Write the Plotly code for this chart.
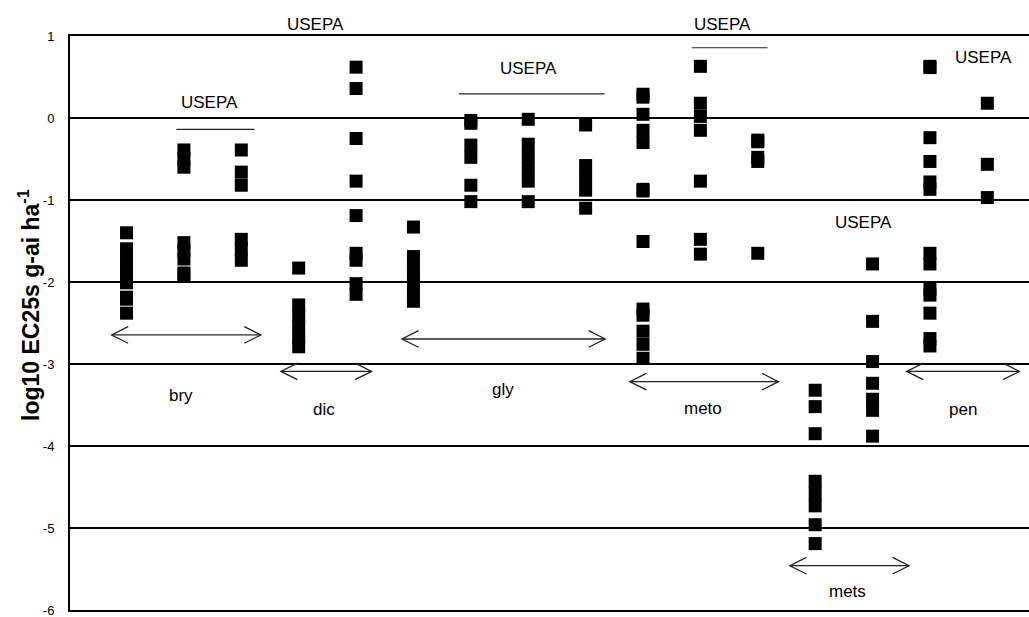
import plotly.graph_objects as go

# log10 EC25 values (g ai/ha), one list per test column, grouped by herbicide
bry_1 = [-1.40, -1.595, -1.70, -1.80, -1.90, -2.01, -2.185, -2.21, -2.38]
bry_2 = [-0.39, -0.50, -0.60, -1.52, -1.62, -1.72, -1.89, -1.93]
bry_3 = [-0.39, -0.66, -0.82, -1.48, -1.60, -1.735]
dic_1 = [-1.83, -2.28, -2.41, -2.54, -2.67, -2.79]
dic_2 = [0.62, 0.36, -0.25, -0.77, -1.19, -1.65, -1.735, -2.02, -2.15]
gly_1 = [-1.33, -1.69, -1.83, -1.96, -2.10, -2.235]
gly_2 = [-0.03, -0.065, -0.33, -0.48, -0.82, -1.02]
gly_3 = [-0.016, -0.32, -0.47, -0.62, -0.77, -1.02]
gly_4 = [-0.085, -0.58, -0.73, -0.88, -1.10]
meto_1 = [0.29, 0.254, 0.045, -0.15, -0.30, -0.87, -0.89, -1.506,
          -2.33, -2.405, -2.60, -2.76, -2.93]
meto_2 = [0.63, 0.18, 0.02, -0.15, -0.77, -1.48, -1.66]
meto_3 = [-0.27, -0.29, -0.48, -0.53, -1.65]
mets_1 = [-3.32, -3.52, -3.85, -4.43, -4.58, -4.73, -4.96, -5.19]
mets_2 = [-1.78, -2.48, -2.97, -3.235, -3.43, -3.565, -3.88]
pen_1 = [0.63, 0.615, -0.24, -0.53, -0.78, -0.87, -1.65, -1.78,
         -2.09, -2.16, -2.38, -2.69, -2.78]
pen_2 = [0.18, -0.565, -0.97]

columns = [bry_1, bry_2, bry_3, dic_1, dic_2, gly_1, gly_2, gly_3, gly_4,
           meto_1, meto_2, meto_3, mets_1, mets_2, pen_1, pen_2]

herbicides = ["bry", "dic", "gly", "meto", "mets", "pen"]
y_ticks = [1, 0, -1, -2, -3, -4, -5, -6]
usepa_label = "USEPA"
y_title = "<b>log10 EC25s g-ai ha<sup>-1</sup></b>"

FONT = "Arial, Liberation Sans, sans-serif"
Y_MIN, Y_MAX = -6, 1


def to_paper_y(v):
    """Vertical data value -> paper fraction (lets labels sit above the plot)."""
    return (v - Y_MIN) / (Y_MAX - Y_MIN)


fig = go.Figure()

for i, vals in enumerate(columns, start=1):
    fig.add_trace(go.Scatter(
        x=[i] * len(vals), y=vals, mode="markers",
        marker=dict(symbol="square", size=13, color="black", line=dict(width=0)),
        showlegend=False, hoverinfo="y",
    ))

# herbicide group spans: (left end, right end, y of arrow), label placement (x, y)
group_arrows = [(0.74, 3.34, -2.646), (3.69, 5.27, -3.09), (5.80, 9.34, -2.695),
                (9.77, 12.36, -3.215), (12.56, 14.635, -5.46), (14.595, 16.56, -3.09)]
group_label_pos = [(1.95, -3.39), (4.44, -3.56), (7.56, -3.31),
                   (11.05, -3.54), (13.57, -5.78), (15.57, -3.55)]

shapes = []
annotations = []
for (x0, x1, ya), (lx, ly), name in zip(group_arrows, group_label_pos, herbicides):
    shapes.append(dict(type="line", xref="x", yref="y", x0=x0, x1=x1, y0=ya, y1=ya,
                       line=dict(color="#222", width=1.3)))
    shapes.append(dict(type="path", xref="x", yref="y", xsizemode="pixel",
                       ysizemode="pixel", xanchor=x0, yanchor=ya,
                       path="M 16.5,8.3 L 0,0 L 16.5,-8.3",
                       line=dict(color="#222", width=1.3)))
    shapes.append(dict(type="path", xref="x", yref="y", xsizemode="pixel",
                       ysizemode="pixel", xanchor=x1, yanchor=ya,
                       path="M -16.5,8.3 L 0,0 L -16.5,-8.3",
                       line=dict(color="#222", width=1.3)))
    annotations.append(dict(x=lx, y=ly, xref="x", yref="y", text=name,
                            xanchor="center", yanchor="middle", showarrow=False,
                            font=dict(family=FONT, size=17, color="black")))

# USEPA markers: label position and optional bracket line (x0, x1, y)
usepa_pos = [(2.44, 0.19), (4.29, 1.14), (8.0, 0.60), (11.39, 1.14), (13.85, -1.28), (15.93, 0.74)]
usepa_lines = [(1.87, 3.23, -0.138), (6.79, 9.33, 0.293), (10.85, 12.17, 0.857)]

for ux, uy in usepa_pos:
    annotations.append(dict(x=ux, y=to_paper_y(uy), xref="x", yref="paper", text=usepa_label,
                            xanchor="center", yanchor="middle", showarrow=False,
                            font=dict(family=FONT, size=17, color="black")))
for x0, x1, yl in usepa_lines:
    shapes.append(dict(type="line", xref="x", yref="y", x0=x0, x1=x1, y0=yl, y1=yl,
                       line=dict(color="#222", width=1.2)))

annotations.append(dict(x=0, y=0.5, xref="paper", yref="paper", xshift=-41, yshift=18,
                        text=y_title, textangle=-90, showarrow=False,
                        xanchor="center", yanchor="middle",
                        font=dict(family=FONT, size=23, color="black")))

fig.update_layout(
    width=1029, height=617,
    margin=dict(l=70, r=0, t=36, b=7, pad=0),
    paper_bgcolor="white", plot_bgcolor="white",
    shapes=shapes, annotations=annotations,
    font=dict(family=FONT, color="black"),
    xaxis=dict(range=[0.015, 16.726], showgrid=False, zeroline=False,
               showticklabels=False, ticks="", showline=True, mirror=True,
               linecolor="black", linewidth=1.5),
    yaxis=dict(range=[Y_MIN, Y_MAX], tickvals=y_ticks, ticktext=[str(t) for t in y_ticks],
               showgrid=True, gridcolor="black", gridwidth=1.5, zeroline=False,
               showline=True, linecolor="black", linewidth=2, ticks="",
               ticklabelstandoff=11, ticklabeloverflow="allow",
               tickfont=dict(family=FONT, size=13, color="black")),
)

fig.write_html("out.html")
